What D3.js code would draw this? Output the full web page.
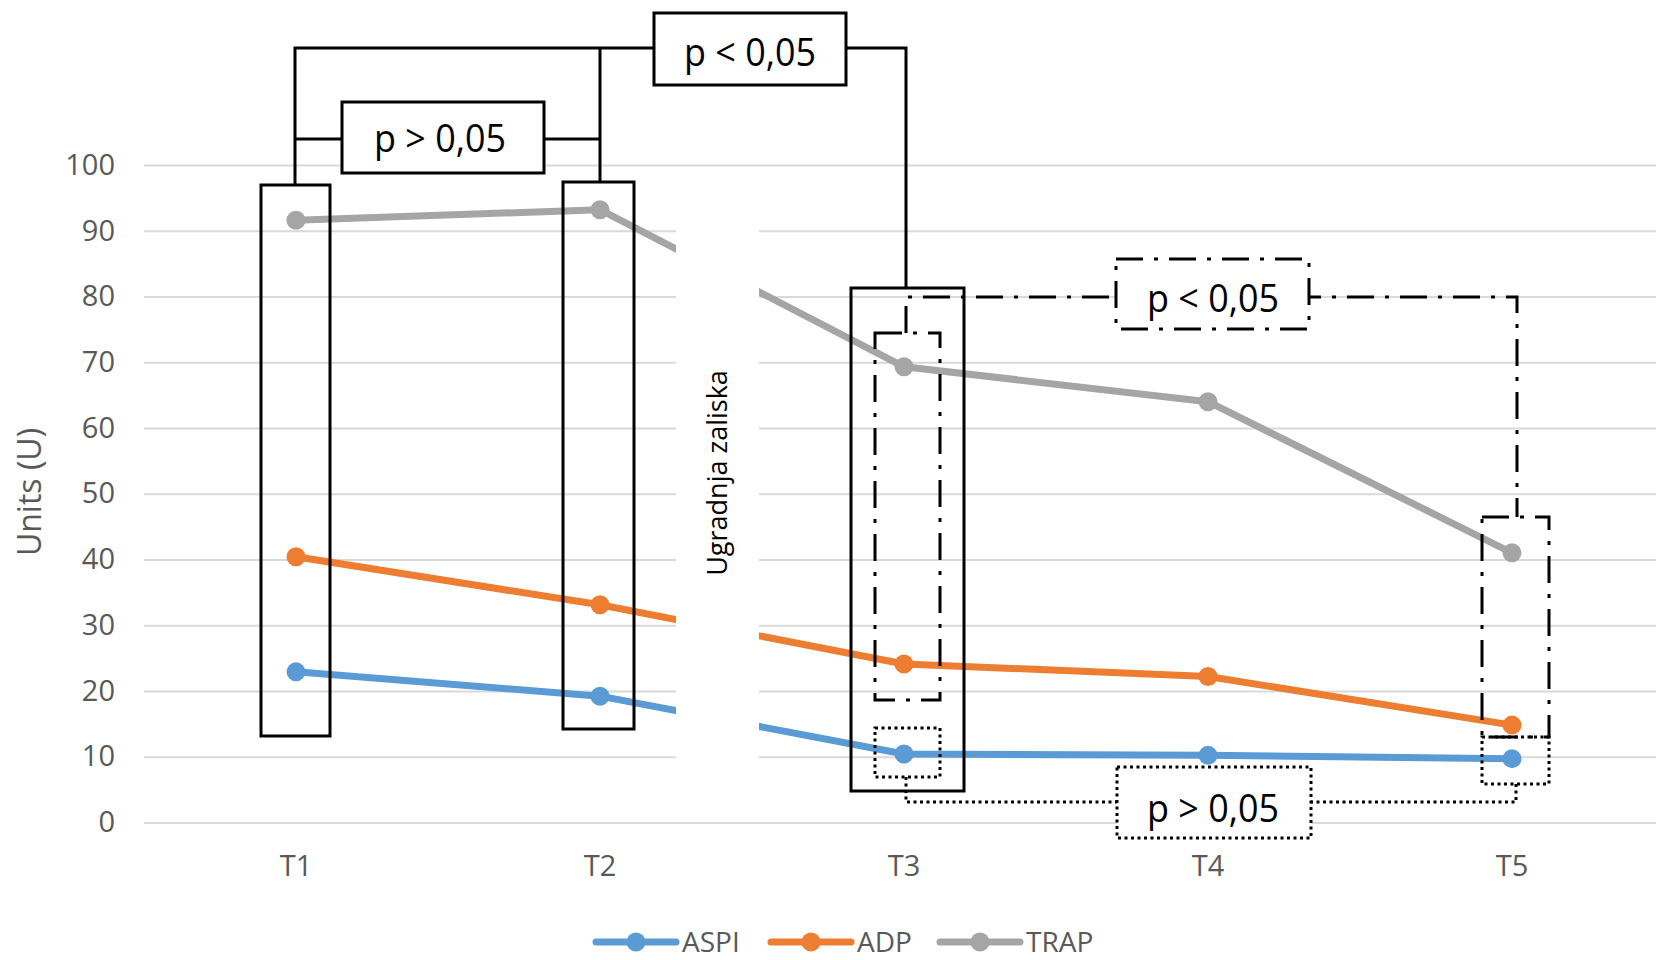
<!DOCTYPE html>
<html>
<head>
<meta charset="utf-8">
<script src="https://cdn.jsdelivr.net/npm/d3@7"></script>
<style>
  body { margin: 0; background: #fff; }
  text { font-family: "Open Sans", sans-serif; }
</style>
</head>
<body>
<div id="chart"></div>
<script>
// chart data
var categories = ["T1", "T2", "T3", "T4", "T5"];
var seriesNames = ["ASPI", "ADP", "TRAP"];
var seriesColors = ["#5B9BD5", "#ED7D31", "#A5A5A5"];
var aspiValues = [22.9, 19.2, 10.4, 10.2, 9.7];
var adpValues = [40.4, 33.1, 24.1, 22.2, 14.8];
var trapValues = [91.6, 93.2, 69.3, 64.0, 41.0];
var yTicks = [0, 10, 20, 30, 40, 50, 60, 70, 80, 90, 100];

var svgWidth = 1656;
var svgHeight = 960;

var margin = { top: 165, bottom: 138, left: 144, right: 0 };
var plotBottom = svgHeight - margin.bottom;

var svg = d3.select("#chart")
    .append("svg")
    .attr("width", svgWidth)
    .attr("height", svgHeight);

// scales
var xScale = d3.scaleBand()
    .domain(categories)
    .range([margin.left, margin.left + 5 * 304]);
var yScale = d3.scaleLinear()
    .domain([0, 100])
    .range([plotBottom + 0.4, margin.top]);

function cx(cat) {
    return xScale(cat) + xScale.bandwidth() / 2;
}

// y axis with gridlines
var yAxis = d3.axisLeft(yScale)
    .tickValues(yTicks)
    .tickSize(-(svgWidth - margin.left))
    .tickPadding(29);

var yGroup = svg.append("g")
    .attr("transform", `translate(${margin.left}, 0)`)
    .call(yAxis);
yGroup.select(".domain").remove();
yGroup.selectAll(".tick line")
    .attr("stroke", "#D9D9D9")
    .attr("stroke-width", 2);
yGroup.selectAll(".tick text")
    .attr("font-size", 29)
    .attr("font-family", "Open Sans")
    .attr("fill", "#595959");

// x axis labels
var xAxis = d3.axisBottom(xScale).tickSize(0).tickPadding(33);
var xGroup = svg.append("g")
    .attr("transform", `translate(0, ${plotBottom})`)
    .call(xAxis);
xGroup.select(".domain").remove();
xGroup.selectAll(".tick text")
    .attr("font-size", 29)
    .attr("font-family", "Open Sans")
    .attr("fill", "#595959");

// y axis title
svg.append("text")
    .attr("transform", "translate(30, 492) rotate(-90)")
    .attr("text-anchor", "middle")
    .attr("dy", "0.35em")
    .attr("font-size", 32)
    .attr("fill", "#595959")
    .text("Units (U)");

// series lines + markers
var seriesData = [aspiValues, adpValues, trapValues];
var line = d3.line()
    .x((d, i) => cx(categories[i]))
    .y(d => yScale(d));

seriesData.forEach(function (values, s) {
    svg.append("path")
        .datum(values)
        .attr("d", line)
        .attr("fill", "none")
        .attr("stroke", seriesColors[s])
        .attr("stroke-width", 7)
        .attr("stroke-linejoin", "round");

    svg.selectAll(".dot" + s)
        .data(values)
        .enter()
        .append("circle")
        .attr("cx", (d, i) => cx(categories[i]))
        .attr("cy", d => yScale(d))
        .attr("r", 9.5)
        .attr("fill", seriesColors[s]);
});

// white text box "Ugradnja zaliska"
svg.append("rect")
    .attr("x", 676)
    .attr("y", 188)
    .attr("width", 83)
    .attr("height", 605)
    .attr("fill", "#fff");
svg.append("text")
    .attr("transform", "translate(718, 473) rotate(-90)")
    .attr("text-anchor", "middle")
    .attr("dy", "0.35em")
    .attr("font-size", 27)
    .attr("fill", "#000")
    .text("Ugradnja zaliska");

// annotations
var ann = svg.append("g")
    .attr("fill", "none")
    .attr("stroke", "#000")
    .attr("stroke-width", 3);

var dashDot = "27,11,4,11";
var dotted = "3,3.5";

function box(x0, y0, x1, y1, dash, fill) {
    ann.append("rect")
        .attr("x", x0)
        .attr("y", y0)
        .attr("width", x1 - x0)
        .attr("height", y1 - y0)
        .attr("fill", fill || "none")
        .attr("stroke-dasharray", dash || null);
}

function path(points, dash) {
    ann.append("path")
        .attr("d", d3.line()(points))
        .attr("stroke-dasharray", dash || null);
}

function label(x, y, txt) {
    ann.append("text")
        .attr("x", x)
        .attr("y", y)
        .attr("dy", "0.36em")
        .attr("text-anchor", "middle")
        .attr("font-size", 38)
        .attr("textLength", 132)
        .attr("lengthAdjust", "spacingAndGlyphs")
        .attr("fill", "#000")
        .attr("stroke", "none")
        .text(txt);
}

var x1 = cx("T1"), x2 = cx("T2"), x3 = cx("T3"), x5 = cx("T5");

// solid boxes and bracket
box(x1 - 35, 185, x1 + 34, 736);
box(x2 - 37, 182, x2 + 34, 729);
box(x3 - 53, 288, x3 + 60, 791);
path([[x1 - 1, 185], [x1 - 1, 48], [x3 + 2, 48], [x3 + 2, 288]]);
path([[x2, 48], [x2, 182]]);
path([[x1 - 1, 139], [x2, 139]]);
box(342, 102, 544, 173, null, "#fff");
label(440, 138, "p > 0,05");
box(654, 13, 846, 85, null, "#fff");
label(750, 52, "p < 0,05");

// dash-dot boxes and bracket
box(x3 - 29, 333, x3 + 36, 700, dashDot);
box(x5 - 30, 517, x5 + 37, 737, dashDot);
path([[x3 + 2, 333], [x3 + 2, 297], [x5 + 5, 297], [x5 + 5, 517]], dashDot);
box(1116, 259, 1309, 329, dashDot, "#fff");
label(1213, 298, "p < 0,05");

// dotted boxes and bracket
box(x3 - 29, 728, x3 + 36, 777, dotted);
box(x5 - 30, 737, x5 + 37, 784, dotted);
path([[x3 + 2, 777], [x3 + 2, 802], [x5 + 4, 802], [x5 + 4, 784]], dotted);
box(1117, 767, 1311, 838, dotted, "#fff");
label(1213, 808, "p > 0,05");

// legend
var legendX = [596, 771, 940];
var legend = svg.append("g");
seriesNames.forEach(function (name, i) {
    var g = legend.append("g")
        .attr("transform", `translate(${legendX[i]}, 942)`);
    g.append("line")
        .attr("x1", 0)
        .attr("x2", 80)
        .attr("stroke", seriesColors[i])
        .attr("stroke-width", 7)
        .attr("stroke-linecap", "round");
    g.append("circle")
        .attr("cx", 40)
        .attr("r", 9.5)
        .attr("fill", seriesColors[i]);
    g.append("text")
        .attr("x", 86)
        .attr("dy", "0.35em")
        .attr("font-size", 28)
        .attr("fill", "#595959")
        .text(name);
});
</script>
</body>
</html>
